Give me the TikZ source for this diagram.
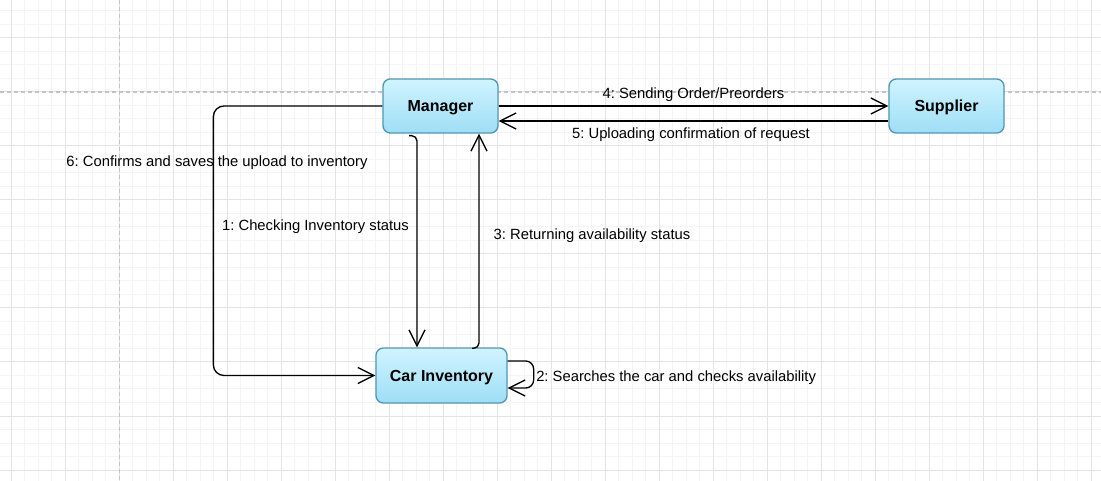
\documentclass[tikz,border=0pt]{standalone}
\usepackage{fontspec}
\setmainfont{Liberation Sans}
\usetikzlibrary{arrows.meta,calc}
\definecolor{boxtop}{RGB}{208,244,255}
\definecolor{boxbot}{RGB}{158,222,246}
\definecolor{boxline}{RGB}{82,150,180}
\definecolor{gridminor}{RGB}{244,244,244}
\definecolor{gridmajor}{RGB}{228,228,228}
\definecolor{pagedash}{RGB}{195,195,195}
\begin{document}
\frenchspacing
\begin{tikzpicture}[x=0.75pt,y=-0.75pt,
  box/.style={draw=boxline, line width=1pt, rounded corners=5.5pt, top color=boxtop, bottom color=boxbot,
    inner sep=0pt, font=\fontsize{12}{14}\selectfont\bfseries, text height=8.6pt, text depth=0pt},
  edge/.style={line width=1pt, draw=black, -{Straight Barb[length=12pt,width=12pt]}},
  lab/.style={inner sep=0pt, font=\fontsize{11.1}{13}\selectfont\frenchspacing, text height=7.95pt, text depth=0pt},
  gminor/.style={draw=gridminor, line width=0.75pt},
  gmajor/.style={draw=gridmajor, line width=0.75pt},
  pagebreak/.style={draw=pagedash, line width=0.9pt, dash pattern=on 3pt off 2.25pt}]
\useasboundingbox (0,0) rectangle (1101,481);
\begin{scope}
\clip (0,0) rectangle (1101,481);
\fill[white] (0,0) rectangle (1101,481);
\foreach \i in {0,...,82} \draw[gminor] ({-2.2+13.5*\i},0) -- ({-2.2+13.5*\i},481);
\foreach \i in {0,...,36} \draw[gminor] (0,{-2.5+13.5*\i}) -- (1101,{-2.5+13.5*\i});
\foreach \i in {0,...,20} \draw[gmajor] ({11.3+54*\i},0) -- ({11.3+54*\i},481);
\foreach \i in {-1,...,8} \draw[gmajor] (0,{38+54*\i}) -- (1101,{38+54*\i});
\draw[pagebreak] (119.3,0) -- (119.3,481);
\draw[pagebreak] (0,92) -- (1101,92);
\end{scope}

\node[box, minimum width=86.25pt, minimum height=40.5pt] (mgr) at (440.5,106) {Manager};
\node[box, minimum width=86.25pt, minimum height=40.5pt] (sup) at (946.5,106) {Supplier};
\node[box, minimum width=98.25pt, minimum height=41.25pt] (car) at (441.5,375.5) {Car Inventory};

\draw[edge] (mgr.east) -- (sup.west);
\draw[edge] ($(sup.west)+(0,15)$) -- ($(mgr.east)+(0,15)$);
\draw[edge, rounded corners=4pt] ($(mgr.south)+(-31.5,2)$) -- ($(mgr.south)+(-23.5,2)$) -- ($(car.north)+(-24.5,0)$);
\draw[edge, rounded corners=4pt] ($(car.north)+(30.5,1)$) -- ($(car.north)+(37.5,1)$) -- ($(mgr.south)+(38.5,0)$);
\draw[edge, rounded corners=8pt] (mgr.west) -- ($(mgr.west)+(-169,0)$) |- (car.west);
\draw[edge, rounded corners=6pt] ($(car.east)+(0,-14.5)$) -- ++(26,0) -- ++(0,27) -- ($(car.east)+(0,12.5)$);

\node[lab] (l4) at (693.5,92.8) {4: Sending Order/Preorders};
\node[lab] (l5) at (691,132.8) {5: Uploading confirmation of request};
\node[lab] (l6) at (217,160.8) {6: Confirms and saves the upload to inventory};
\node[lab] (l1) at (315.5,224.8) {1: Checking Inventory status};
\node[lab] (l3) at (592,233.8) {3: Returning availability status};
\node[lab, anchor=west] (l2) at (536,375.8) {2: Searches the car and checks availability};
\end{tikzpicture}
\end{document}
